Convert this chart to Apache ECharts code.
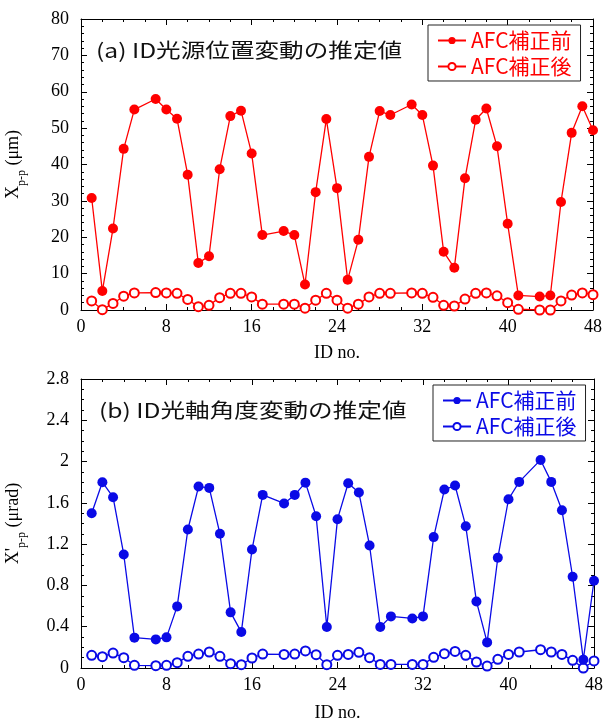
<!DOCTYPE html>
<html><head><meta charset="utf-8">
<script src="https://cdn.jsdelivr.net/npm/echarts@6/dist/echarts.min.js"></script>
<style>html,body{margin:0;padding:0;background:#fff}#c{width:603px;height:722px}</style>
</head><body><div id="c"></div>
<script>
const ids = [1,2,3,4,5,7,8,9,10,11,12,13,14,15,16,17,19,20,21,22,23,24,25,26,27,28,29,31,32,33,34,35,36,37,38,39,40,41,43,44,45,46,47,48];
const posBefore = [30.8,5.2,22.4,44.3,55.1,58.0,55.1,52.6,37.2,12.9,14.8,38.7,53.3,54.8,43.0,20.6,21.7,20.6,7.0,32.4,52.5,33.5,8.3,19.3,42.1,54.7,53.6,56.5,53.6,39.7,16.0,11.6,36.2,52.3,55.4,45.0,23.7,4.0,3.7,4.0,29.7,48.7,56.0,49.4];
const posAfter = [2.5,0.1,1.8,3.8,4.7,4.8,4.7,4.6,2.9,0.9,1.3,3.4,4.6,4.6,3.6,1.6,1.6,1.6,0.5,2.7,4.6,2.7,0.5,1.6,3.6,4.6,4.6,4.7,4.6,3.5,1.3,1.1,3.0,4.6,4.7,3.9,2.0,0.2,0.0,0.0,2.5,4.1,4.7,4.2];
const angBefore = [1.50,1.80,1.655,1.10,0.294,0.277,0.297,0.597,1.342,1.758,1.745,1.30,0.539,0.348,1.148,1.677,1.594,1.677,1.796,1.470,0.397,1.442,1.790,1.70,1.187,0.397,0.50,0.48,0.50,1.268,1.729,1.768,1.374,0.645,0.248,1.068,1.635,1.803,2.016,1.803,1.529,0.884,0.081,0.845];
const angAfter = [0.123,0.11,0.145,0.10,0.026,0.023,0.026,0.052,0.113,0.135,0.155,0.113,0.042,0.032,0.097,0.135,0.132,0.135,0.165,0.129,0.032,0.123,0.132,0.152,0.10,0.035,0.035,0.035,0.035,0.103,0.139,0.161,0.123,0.058,0.019,0.084,0.132,0.155,0.177,0.155,0.132,0.074,0.0,0.068];
const xTicks = {min:0, max:48, interval:8};
const titleA = '(a) ID光源位置変動の推定値';
const titleB = '(b) ID光軸角度変動の推定値';
const nameBefore = 'AFC補正前';
const nameAfter = 'AFC補正後';

const pairs = v => v.map((y,i)=>[ids[i], y]);
const serif = 'Liberation Serif';
const cjk = 'Noto Sans CJK JP';
const RED = '#ff0000', BLUE = '#0a0ae6';

function xAx(grid, pos, show){
  return {type:'value', gridIndex:grid, position:pos, min:xTicks.min, max:xTicks.max, interval:xTicks.interval,
    axisLine:{show:true, onZero:false, lineStyle:{color:'#000', width:1}},
    axisTick:{show:true, inside:true, length:6, lineStyle:{color:'#000'}},
    minorTick:{show:true, splitNumber:4, length:3, lineStyle:{color:'#000'}},
    splitLine:{show:false},
    axisLabel:{show:show, margin:8, fontSize:18, fontFamily:serif, color:'#000'},
    name: show ? 'ID no.' : '', nameLocation:'middle', nameGap: grid===0 ? 34 : 36,
    nameTextStyle:{fontSize:18, fontFamily:serif, color:'#000'}};
}
function yAx(grid, pos, show, max, interval, minor, name){
  return {type:'value', gridIndex:grid, position:pos, min:0, max:max, interval:interval,
    axisLine:{show:true, onZero:false, lineStyle:{color:'#000', width:1}},
    axisTick:{show:true, inside:true, length:6, lineStyle:{color:'#000'}},
    minorTick:{show:true, splitNumber:minor, length:3, lineStyle:{color:'#000'}},
    splitLine:{show:false},
    axisLabel:{show:show, margin:12, fontSize:18, fontFamily:serif, color:'#000'},
    name: show ? name : '', nameLocation:'middle', nameGap:53, nameRotate:90,
    nameTextStyle:{fontSize:18, fontFamily:serif, color:'#000',
      rich:{
        m:{fontSize:18, fontFamily:serif, color:'#000', lineHeight:30, verticalAlign:'middle'},
        s:{fontSize:12, fontFamily:serif, color:'#000', lineHeight:30, verticalAlign:'bottom'}
      }}};
}
function lineS(name, x, y, data, color, filled){
  return {type:'line', name:name, xAxisIndex:x, yAxisIndex:y, data:data,
    symbol: filled ? 'circle' : 'emptyCircle', symbolSize: filled ? 10 : 9,
    itemStyle:{color:color, borderColor:color, borderWidth: filled ? 0 : 1.2},
    lineStyle:{color:color, width:1.3}, animation:false, z: filled ? 3 : 2};
}
function legend(top, left, color, names){
  return {orient:'vertical', left:left, top:top, data:names, padding:[5,9,4,9],
    borderColor:'#222', borderWidth:1, backgroundColor:'#fff', itemWidth:28, itemHeight:9, itemGap:5,
    formatter: n => n.split('#')[0],
    textStyle:{color:color, fontSize:21, fontFamily:cjk}};
}

const chart = echarts.init(document.getElementById('c'), null, {renderer:'canvas'});
chart.setOption({
  animation:false,
  backgroundColor:'#fff',
  grid:[{left:81, top:19, width:512, height:291, containLabel:false, outerBoundsMode:'none'},
        {left:81, top:379, width:513, height:289, containLabel:false, outerBoundsMode:'none'}],
  xAxis:[xAx(0,'bottom',true), xAx(0,'top',false), xAx(1,'bottom',true), xAx(1,'top',false)],
  yAxis:[yAx(0,'left',true,80,10,5,'{m|X}{s|p-p}{m| (μm)}'), yAx(0,'right',false,80,10,5,''),
         yAx(1,'left',true,2.8,0.4,4,"{m|X'}{s|p-p}{m| (μrad)}"), yAx(1,'right',false,2.8,0.4,4,'')],
  legend:[legend(25, 428, RED, [nameBefore, nameAfter]), legend(385, 433, BLUE, [nameBefore+'#b', nameAfter+'#b'])],
  series:[
    lineS(nameAfter, 0, 0, pairs(posAfter), RED, false),
    lineS(nameBefore, 0, 0, pairs(posBefore), RED, true),
    lineS(nameAfter+'#b', 2, 2, pairs(angAfter), BLUE, false),
    lineS(nameBefore+'#b', 2, 2, pairs(angBefore), BLUE, true)
  ],
  graphic:[
    {type:'text', x:96, y:40, scaleX:1.23, style:{text:titleA, fontSize:20, fontFamily:cjk, fill:'#111', verticalAlign:'top'}},
    {type:'text', x:99, y:400, scaleX:1.23, style:{text:titleB, fontSize:20, fontFamily:cjk, fill:'#111', verticalAlign:'top'}}
  ]
});
</script></body></html>
